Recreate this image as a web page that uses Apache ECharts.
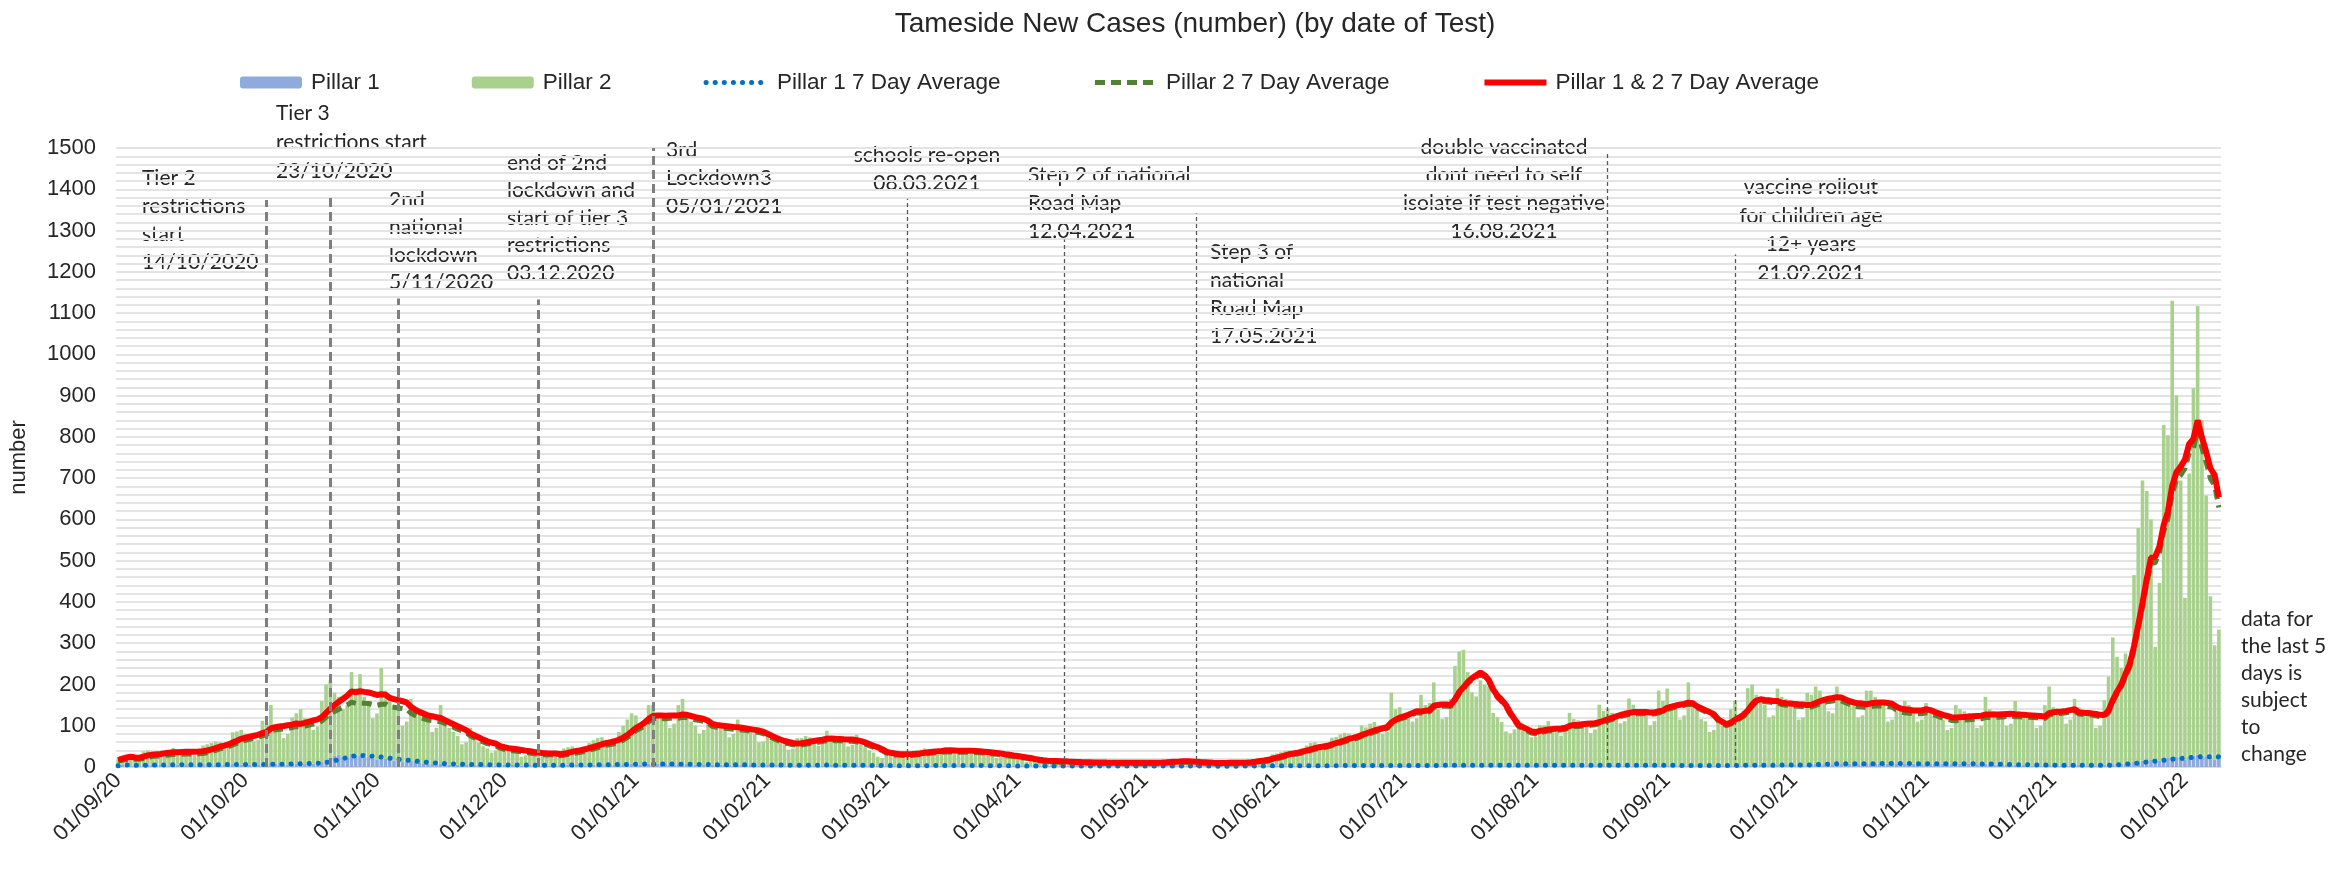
<!DOCTYPE html>
<html>
<head>
<meta charset="utf-8">
<title>Tameside New Cases</title>
<script src="https://cdn.jsdelivr.net/npm/echarts@6/dist/echarts.min.js"></script>
<style>
  html, body { margin: 0; padding: 0; background: #fff; }
  #chart { width: 2351px; height: 873px; }
</style>
</head>
<body>
<div id="chart"></div>
<script>
// daily cases by date of test, starting 01/09/2020 (one row = one week, Tue..Mon)
const startDate = [2020, 8, 1];

const pillar1 = [
  3,5,6,4,3,2,7,  6,5,6,5,4,4,7,  6,6,5,6,4,3,7,  6,7,6,6,5,4,8,
  7,6,7,6,5,5,8,  8,7,8,7,6,6,9,  9,10,9,10,8,9,12,  18,22,28,30,25,24,32,
  30,28,25,24,20,18,24,  20,18,16,15,12,12,15,  12,10,9,8,7,7,9,  7,6,6,6,5,5,7,
  6,6,5,5,4,4,6,  6,5,5,4,3,3,5,  5,5,4,4,3,3,5,  5,6,6,5,4,4,6,
  6,6,7,6,5,5,7,  7,8,8,7,6,6,8,  8,8,7,7,6,6,7,  7,7,6,6,5,5,6,
  6,6,6,5,5,4,6,  5,5,5,5,4,4,5,  5,5,4,4,3,3,5,  5,5,5,4,4,4,5,
  5,4,5,4,3,3,5,  4,4,4,3,3,2,4,  4,4,3,3,2,2,4,  4,4,4,4,3,3,4,
  4,4,4,3,3,3,4,  4,3,3,3,2,2,3,  3,3,3,2,2,2,3,  3,2,3,2,2,2,3,
  3,2,3,2,2,2,3,  2,3,2,2,2,2,3,  2,2,3,2,2,2,3,  2,3,2,3,2,2,3,
  3,2,2,2,2,2,3,  2,2,2,2,2,2,3,  3,3,3,3,2,3,3,  3,3,3,3,3,3,3,
  3,3,3,3,3,3,4,  4,4,4,4,3,3,4,  4,4,4,4,3,3,4,  4,4,4,4,3,3,4,
  4,4,4,4,4,4,4,  4,4,4,4,4,4,4,  4,4,4,4,4,4,4,  4,4,4,4,4,4,4,
  4,4,4,4,4,4,4,  4,4,4,4,4,4,4,  4,4,4,4,4,4,4,  4,4,4,4,4,4,4,
  4,4,4,4,3,3,4,  4,4,4,4,3,3,4,
  4,4,4,4,4,4,5,  4,5,5,4,4,4,5,  5,5,5,5,4,4,6,  8,8,8,7,7,7,9,
  9,9,8,8,7,7,9,  9,9,9,8,8,7,9,  9,9,8,8,7,7,9,  8,8,8,8,7,7,8,
  8,8,8,7,7,6,8,  7,6,6,6,5,5,6,  5,5,5,4,4,4,5,  5,5,4,4,4,4,5,
  5,4,4,4,4,4,5,  6,7,8,8,9,10,12,  14,15,16,18,14,16,22,  22,24,25,22,18,24,28,
  30,28,26,22,18,20
];

const pillar2 = [
  14,19,22,26,14,18,31,  34,32,30,29,23,26,39,  36,34,33,30,24,28,45,  49,51,56,54,41,46,76,
  79,84,73,72,57,61,104,  100,143,92,83,64,74,111,  121,130,109,102,82,89,148,  182,188,152,140,115,126,198,
  160,197,145,136,98,112,216,  165,152,134,125,88,98,150,  128,120,111,102,78,88,141,  98,89,79,69,50,55,88,
  64,54,45,40,31,36,49,  44,40,35,31,22,25,40,  33,30,29,26,19,22,31,  40,42,44,41,31,36,52,
  59,64,65,60,45,50,78,  93,107,122,118,84,99,142,  142,117,123,113,89,99,143,  158,113,104,94,75,85,114,
  104,99,94,87,67,76,109,  95,90,83,75,56,58,75,  60,57,54,51,39,42,65,  65,70,67,64,48,52,83,
  67,66,63,60,47,51,73,  51,44,36,32,22,20,31,  32,31,30,27,22,24,36,  38,41,39,36,27,30,44,
  40,38,36,35,27,29,42,  34,33,30,27,20,22,31,  25,22,20,16,10,10,15,  14,13,12,12,8,8,13,
  10,10,9,9,6,7,10,  10,8,9,8,5,6,9,  9,10,7,8,5,6,10,  11,11,13,13,9,10,14,
  10,9,8,7,5,6,10,  9,9,8,8,6,6,10,  12,14,16,18,14,18,28,  30,33,36,37,28,31,42,
  49,55,57,53,40,43,67,  69,75,79,77,58,63,97,  92,101,105,96,77,82,176,  136,141,126,121,107,115,171,
  146,151,201,136,112,117,161,  241,276,280,226,177,167,206,  196,191,127,117,105,82,77,  87,92,89,82,68,70,97,
  97,107,95,89,72,82,127,  112,109,105,97,78,87,147,  132,137,127,122,102,107,162,  147,136,127,122,97,107,181,
  156,186,146,142,112,122,201,  146,136,112,107,82,87,116,  96,101,136,156,122,132,186,  196,170,155,146,116,121,185,
  165,160,150,140,111,116,174,  167,187,177,163,128,123,186,  161,151,147,142,113,118,176,  176,161,151,142,102,108,126,
  141,151,142,132,103,108,146,  127,122,117,107,83,88,142,  132,127,122,113,88,94,162,  133,129,124,119,95,100,154,
  130,125,120,116,91,96,145,  190,140,126,121,101,111,160,  140,131,121,116,91,96,157,  213,307,259,232,266,257,453,
  565,679,653,582,277,430,807,  782,1106,876,672,392,687,890,  1087,812,632,392,277,313
];

// event markers: date of the drawn line, top of the line (cases scale), heavy/thin style
const eventDates = ['2020-10-06', '2020-10-21', '2020-11-06', '2020-12-09', '2021-01-05',
                    '2021-03-06', '2021-04-12', '2021-05-13', '2021-08-18', '2021-09-17'];
const eventTops  = [1374, 1386, 1135, 1133, 1500, 1377, 1278, 1341, 1490, 1242];
const eventHeavy = [true, true, true, true, true, false, false, false, false, false];

const noteTexts = [
  ['Tier 2', 'restrictions', 'start', '14/10/2020'],
  ['Tier 3', 'restrictions start', '23/10/2020'],
  ['2nd', 'national', 'lockdown', '5/11/2020'],
  ['end of 2nd', 'lockdown and', 'start of tier 3', 'restrictions', '03.12.2020'],
  ['3rd', 'Lockdown3', '05/01/2021'],
  ['schools re-open', '08.03.2021'],
  ['Step 2 of national', 'Road Map', '12.04.2021'],
  ['Step 3 of', 'national', 'Road Map', '17.05.2021'],
  ['double vaccinated', 'dont need to self', 'isolate if test negative', '16.08.2021'],
  ['vaccine rollout', 'for children age', '12+ years', '21.09.2021'],
  ['data for', 'the last 5', 'days is', 'subject', 'to', 'change']
];

// layout of the annotation blocks: [x, top, align, lineHeight]
const noteLayout = [
  [142, 164, 'left', 28], [276, 99, 'left', 29], [389, 186, 'left', 27.5],
  [507, 149, 'left', 27.5], [666, 136, 'left', 28], [927, 141, 'center', 28],
  [1028, 161, 'left', 28], [1210, 238, 'left', 28], [1504, 133, 'center', 28],
  [1811, 173, 'center', 28.5], [2241, 606, 'left', 27]
];

const days = [];
const t0 = Date.UTC(startDate[0], startDate[1], startDate[2]);
for (let i = 0; i < pillar2.length; i++) {
  days.push(new Date(t0 + i * 86400000).toISOString().slice(0, 10));
}

function avg7(arr) {
  return arr.map((v, i) => {
    const w = arr.slice(Math.max(0, i - 6), i + 1);
    return +(w.reduce((a, b) => a + b, 0) / w.length).toFixed(1);
  });
}
const total = pillar2.map((v, i) => v + pillar1[i]);

const isMonthStart = (i, v) => v.slice(8) === '01';
const axisFont = 'Liberation Sans';
const noteFont = '21px Lato';

const p1AvgStyle = { color: '#0070c0', width: 5, type: [0.1, 9], cap: 'round' };
const p2AvgStyle = { color: '#548235', width: 5, type: [10, 6] };
const allAvgStyle = { color: '#ff0000', width: 6 };

const markData = eventDates.map((d, i) => [
  { coord: [d, 0], lineStyle: eventHeavy[i]
      ? { color: '#7f7f7f', width: 3, type: [9, 5] }
      : { color: '#595959', width: 1.3, type: [4, 3] } },
  { coord: [d, eventTops[i]] }
]);

// legend entry for a line series: line only, no symbol
const lineLegend = (name, style) => ({ name: name, itemStyle: { opacity: 0 }, lineStyle: style });

const chart = echarts.init(document.getElementById('chart'));
chart.setOption({
  animation: false,
  backgroundColor: '#ffffff',
  title: {
    text: 'Tameside New Cases (number) (by date of Test)',
    left: 1190, top: 5, textAlign: 'center',
    textStyle: { fontFamily: axisFont, fontSize: 28, fontWeight: 'normal', color: '#262626' }
  },
  legend: {
    left: 235, top: 66,
    itemWidth: 62, itemHeight: 12, itemGap: 92,
    textStyle: { fontFamily: axisFont, fontSize: 22.5, color: '#262626', padding: [0, 0, 0, 4] },
    data: ['Pillar 1', 'Pillar 2',
           lineLegend('Pillar 1 7 Day Average', p1AvgStyle),
           lineLegend('Pillar 2 7 Day Average', p2AvgStyle),
           lineLegend('Pillar 1 & 2 7 Day Average', allAvgStyle)]
  },
  grid: { left: 113, right: 130, top: 148, bottom: 106 },
  xAxis: {
    type: 'category',
    data: days,
    axisLine: { lineStyle: { color: '#d9d9d9', width: 1.5 } },
    axisTick: { interval: isMonthStart, alignWithLabel: true, length: 6, lineStyle: { color: '#d9d9d9' } },
    axisLabel: {
      interval: isMonthStart, rotate: 45, margin: 10,
      fontFamily: axisFont, fontSize: 22, color: '#262626',
      formatter: v => v.slice(8, 10) + '/' + v.slice(5, 7) + '/' + v.slice(2, 4)
    },
    splitLine: { show: false }
  },
  yAxis: {
    type: 'value', min: 0, max: 1500, interval: 100,
    name: 'number', nameLocation: 'middle', nameGap: 86,
    nameTextStyle: { fontFamily: axisFont, fontSize: 22, color: '#262626' },
    axisLine: { show: false }, axisTick: { show: false },
    axisLabel: { fontFamily: axisFont, fontSize: 22, color: '#262626', margin: 20, formatter: v => String(v) },
    splitLine: { lineStyle: { color: '#e4e4e4', width: 2 } },
    minorTick: { show: false, splitNumber: 5 },
    minorSplitLine: { show: true, lineStyle: { color: '#e4e4e4', width: 2 } }
  },
  series: [
    {
      name: 'Pillar 1', type: 'bar', stack: 'cases', data: pillar1,
      barCategoryGap: '15%', itemStyle: { color: '#8faadc' }
    },
    {
      name: 'Pillar 2', type: 'bar', stack: 'cases', data: pillar2,
      barCategoryGap: '15%', itemStyle: { color: '#a9d18e' }
    },
    {
      name: 'Pillar 1 7 Day Average', type: 'line', data: avg7(pillar1), symbol: 'none',
      itemStyle: { color: '#0070c0' }, lineStyle: p1AvgStyle
    },
    {
      name: 'Pillar 2 7 Day Average', type: 'line', data: avg7(pillar2), symbol: 'none',
      itemStyle: { color: '#548235' }, lineStyle: p2AvgStyle
    },
    {
      name: 'Pillar 1 & 2 7 Day Average', type: 'line', data: avg7(total), symbol: 'none',
      itemStyle: { color: '#ff0000' }, lineStyle: allAvgStyle,
      markLine: {
        silent: true, symbol: ['none', 'none'], label: { show: false },
        emphasis: { disabled: true },
        data: markData
      }
    }
  ],
  graphic: noteTexts.map((lines, i) => ({
    type: 'text',
    x: noteLayout[i][0], y: noteLayout[i][1],
    silent: true,
    style: {
      text: lines.join('\n'),
      font: noteFont, fill: '#262626',
      textAlign: noteLayout[i][2], textVerticalAlign: 'top',
      lineHeight: noteLayout[i][3]
    }
  }))
});
</script>
</body>
</html>
